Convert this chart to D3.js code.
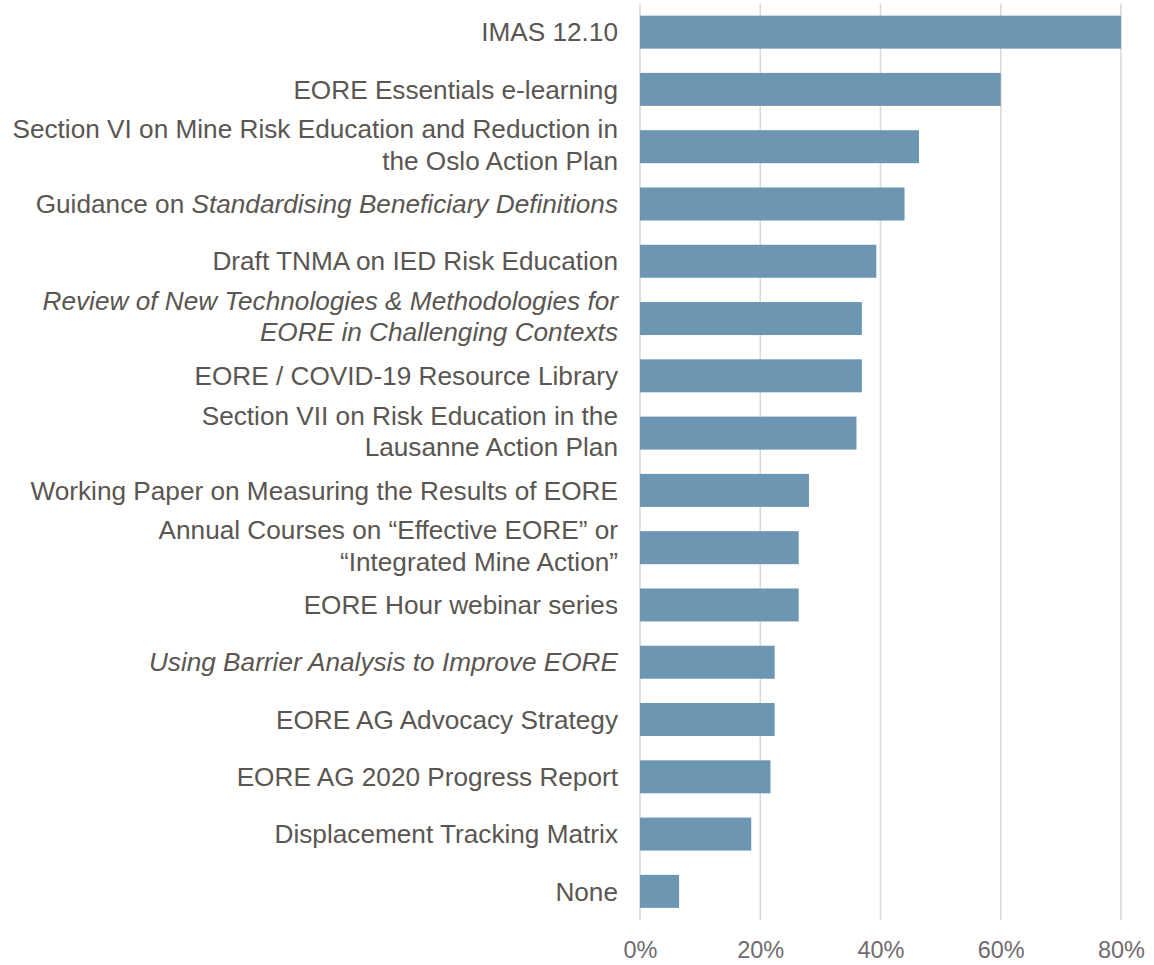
<!DOCTYPE html>
<html>
<head>
<meta charset="utf-8">
<script src="https://cdn.jsdelivr.net/npm/d3@7"></script>
<style>
  html, body { margin: 0; padding: 0; background: #ffffff; }
  svg { display: block; }
</style>
</head>
<body>
<div id="chart"></div>
<script>
// Category labels: "\n" = line break, *...* = italic text
const categories = [
  "IMAS 12.10",
  "EORE Essentials e-learning",
  "Section VI on Mine Risk Education and Reduction in\nthe Oslo Action Plan",
  "Guidance on *Standardising Beneficiary Definitions*",
  "Draft TNMA on IED Risk Education",
  "*Review of New Technologies & Methodologies for*\n*EORE in Challenging Contexts*",
  "EORE / COVID-19 Resource Library",
  "Section VII on Risk Education in the\nLausanne Action Plan",
  "Working Paper on Measuring the Results of EORE",
  "Annual Courses on \u201cEffective EORE\u201d or\n\u201cIntegrated Mine Action\u201d",
  "EORE Hour webinar series",
  "*Using Barrier Analysis to Improve EORE*",
  "EORE AG Advocacy Strategy",
  "EORE AG 2020 Progress Report",
  "Displacement Tracking Matrix",
  "None"
];
const values = [
  0.800, 0.600, 0.464, 0.440, 0.393, 0.369, 0.369, 0.360,
  0.281, 0.264, 0.264, 0.224, 0.224, 0.217, 0.185, 0.065
];
const tickValues = [0, 0.2, 0.4, 0.6, 0.8];
const tickLabels = ["0%", "20%", "40%", "60%", "80%"];

const W = 1154, H = 965;
const margin = { left: 640, right: 33, top: 3.5, bottom: 45 };

const svg = d3.select("#chart").append("svg")
  .attr("width", W).attr("height", H);

const x = d3.scaleLinear()
  .domain([0, 0.8])
  .range([margin.left, W - margin.right]);

const y = d3.scaleBand()
  .domain(categories)
  .range([margin.top, H - margin.bottom])
  .paddingInner(0.424)
  .paddingOuter(0.212);

// gridlines
svg.append("g")
  .selectAll("line")
  .data(tickValues)
  .join("line")
  .attr("x1", d => x(d)).attr("x2", d => x(d))
  .attr("y1", margin.top).attr("y2", H - margin.bottom)
  .attr("stroke", "#d9d9d9")
  .attr("stroke-width", 1.6);

// bars
svg.append("g")
  .selectAll("rect")
  .data(categories)
  .join("rect")
  .attr("x", x(0))
  .attr("y", d => y(d))
  .attr("width", (d, i) => x(values[i]) - x(0))
  .attr("height", y.bandwidth())
  .attr("fill", "#6d96b3");

// x axis
const xAxis = d3.axisBottom(x)
  .tickValues(tickValues)
  .tickFormat((d, i) => tickLabels[i])
  .tickSize(0)
  .tickPadding(0);
const gx = svg.append("g")
  .attr("transform", `translate(0, ${H - margin.bottom + 19})`)
  .call(xAxis);
gx.select(".domain").remove();
gx.selectAll("text")
  .attr("font-family", "'Liberation Sans', Arial, sans-serif")
  .attr("font-size", "23.5px")
  .attr("fill", "#6f6b70")
  .attr("dy", "0.8em");

// y axis labels
const yAxis = d3.axisLeft(y).tickSize(0).tickPadding(22).tickFormat("");
const gy = svg.append("g")
  .attr("transform", `translate(${margin.left}, 0)`)
  .call(yAxis);
gy.select(".domain").remove();

const lineH = 31.5;
gy.selectAll(".tick").each(function(d) {
  const t = d3.select(this).select("text");
  t.attr("font-family", "'Liberation Sans', Arial, sans-serif")
   .attr("font-size", "26.2px")
   .attr("fill", "#5a5652")
   .attr("text-anchor", "end")
   .attr("x", -22)
   .attr("dy", null)
   .text(null);
  const lines = d.split("\n");
  const n = lines.length;
  lines.forEach((ln, li) => {
    const offset = (li - (n - 1) / 2) * lineH - 2 * (n - 1);
    const parts = ln.split("*");
    parts.forEach((p, pi) => {
      if (p === "") return;
      const ts = t.append("tspan").text(p)
        .attr("font-style", pi % 2 === 1 ? "italic" : "normal");
      if (pi === 0 || (pi === 1 && parts[0] === "")) {
        ts.attr("x", -22).attr("y", offset).attr("dy", "0.35em");
      }
    });
  });
});
</script>
</body>
</html>
